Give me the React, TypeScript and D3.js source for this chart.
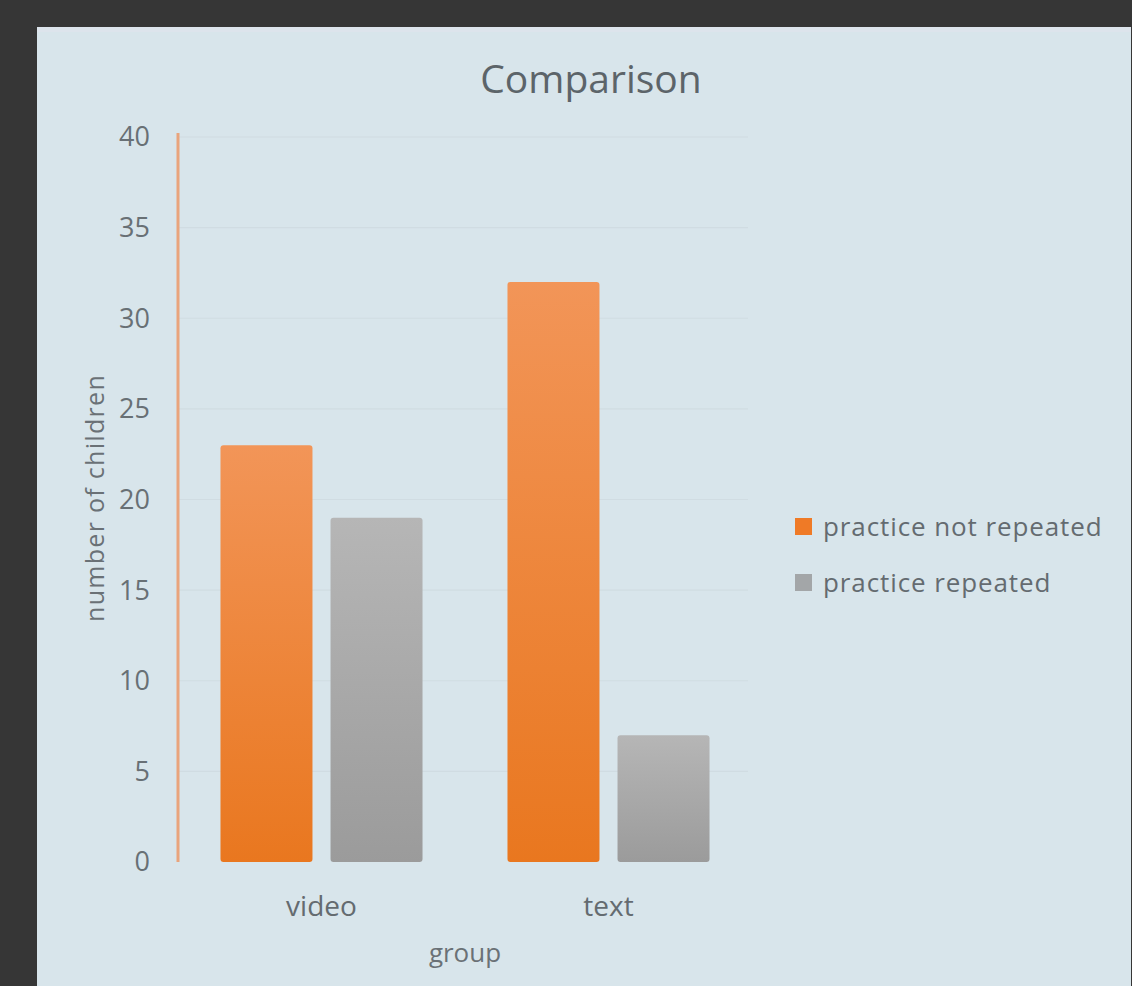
import React, { useEffect, useRef } from "react";
import * as d3 from "d3";

const categories = ["video", "text"];
const seriesNames = ["practice not repeated", "practice repeated"];
const notRepeated = [23, 32];
const repeated = [19, 7];
const yTicks = [0, 5, 10, 15, 20, 25, 30, 35, 40];

const W = 1132;
const H = 986;
const FONT = "'Open Sans', 'Noto Sans', sans-serif";

const App = () => {
  const ref = useRef<SVGSVGElement | null>(null);

  useEffect(() => {
    const svg = d3.select(ref.current);
    svg.selectAll("*").remove();

    // dark backdrop + light panel
    svg.append("rect").attr("width", W).attr("height", H).attr("fill", "#363636");
    svg
      .append("rect")
      .attr("x", 37)
      .attr("y", 27)
      .attr("width", 1094)
      .attr("height", H - 27)
      .attr("fill", "#d8e5eb");
    svg
      .append("rect")
      .attr("x", 37)
      .attr("y", 27)
      .attr("width", 1094)
      .attr("height", 5)
      .attr("fill", "#dde4ec");

    const defs = svg.append("defs");
    const grad = (id: string, top: string, bottom: string) => {
      const g = defs
        .append("linearGradient")
        .attr("id", id)
        .attr("x1", 0)
        .attr("y1", 0)
        .attr("x2", 0)
        .attr("y2", 1);
      g.append("stop").attr("offset", "0%").attr("stop-color", top);
      g.append("stop").attr("offset", "100%").attr("stop-color", bottom);
    };
    grad("gOrange", "#f29558", "#e9771f");
    grad("gGray", "#b6b6b6", "#9b9b9b");
    const fills = ["url(#gOrange)", "url(#gGray)"];
    const legendColors = ["#ef7a26", "#a3a6a8"];

    const x0 = d3.scaleBand().domain(categories).range([178, 752]).padding(0);
    const x1 = d3
      .scaleBand()
      .domain(seriesNames)
      .range([0, x0.bandwidth()])
      .paddingInner(0.164)
      .paddingOuter(0.386);
    const y = d3.scaleLinear().domain([0, 40]).range([862, 137]);

    // gridlines
    svg
      .append("g")
      .selectAll("line")
      .data(yTicks.slice(1))
      .enter()
      .append("line")
      .attr("x1", 178)
      .attr("x2", 748)
      .attr("y1", (d) => y(d))
      .attr("y2", (d) => y(d))
      .attr("stroke", "#d0dce2")
      .attr("stroke-width", 1.2);

    // y tick labels
    svg
      .append("g")
      .selectAll("text")
      .data(yTicks)
      .enter()
      .append("text")
      .attr("x", 150)
      .attr("y", (d) => y(d))
      .attr("dy", "0.35em")
      .attr("text-anchor", "end")
      .attr("font-family", FONT)
      .attr("font-size", 27)
      .attr("fill", "#687075")
      .text((d) => d);

    // bars
    const values = [notRepeated, repeated];
    const groups = svg
      .append("g")
      .selectAll("g")
      .data(categories)
      .enter()
      .append("g")
      .attr("transform", (d) => `translate(${x0(d)},0)`);

    groups
      .selectAll("rect")
      .data((_, i) => seriesNames.map((s, k) => ({ s, k, v: values[k][i] })))
      .enter()
      .append("rect")
      .attr("x", (d) => x1(d.s) as number)
      .attr("y", (d) => y(d.v))
      .attr("width", x1.bandwidth())
      .attr("height", (d) => y(0) - y(d.v))
      .attr("rx", 3)
      .attr("fill", (d) => fills[d.k]);

    // y axis line
    svg
      .append("line")
      .attr("x1", 178)
      .attr("x2", 178)
      .attr("y1", y(40) - 4)
      .attr("y2", y(0))
      .attr("stroke", "#e9a47c")
      .attr("stroke-width", 3);

    // category labels
    svg
      .append("g")
      .selectAll("text")
      .data(categories)
      .enter()
      .append("text")
      .attr("x", (d) => (x0(d) as number) + x0.bandwidth() / 2)
      .attr("y", 916)
      .attr("text-anchor", "middle")
      .attr("font-family", FONT)
      .attr("font-size", 28)
      .attr("fill", "#646b70")
      .text((d) => d);

    // axis titles
    svg
      .append("text")
      .attr("x", 465)
      .attr("y", 962)
      .attr("text-anchor", "middle")
      .attr("font-family", FONT)
      .attr("font-size", 26)
      .attr("fill", "#6a7176")
      .text("group");

    svg
      .append("text")
      .attr("transform", "translate(104,498) rotate(-90)")
      .attr("text-anchor", "middle")
      .attr("font-family", FONT)
      .attr("font-size", 25)
      .attr("letter-spacing", 1.3)
      .attr("fill", "#6a7176")
      .text("number of children");

    svg
      .append("text")
      .attr("x", 591)
      .attr("y", 93)
      .attr("text-anchor", "middle")
      .attr("font-family", FONT)
      .attr("font-size", 39)
      .attr("fill", "#5c6469")
      .text("Comparison");

    // legend
    const legend = svg
      .append("g")
      .selectAll("g")
      .data(seriesNames)
      .enter()
      .append("g")
      .attr("transform", (_, i) => `translate(795,${527 + i * 56})`);
    legend
      .append("rect")
      .attr("x", 0)
      .attr("y", -9)
      .attr("width", 17)
      .attr("height", 17)
      .attr("fill", (_, i) => legendColors[i]);
    legend
      .append("text")
      .attr("x", 28)
      .attr("y", 0)
      .attr("dy", "0.35em")
      .attr("font-family", FONT)
      .attr("font-size", 26)
      .attr("letter-spacing", 0.9)
      .attr("fill", "#646b70")
      .text((d) => d);
  }, []);

  return (
    <svg
      ref={ref}
      width={W}
      height={H}
      style={{ position: "absolute", left: 0, top: 0 }}
    />
  );
};

export default App;
